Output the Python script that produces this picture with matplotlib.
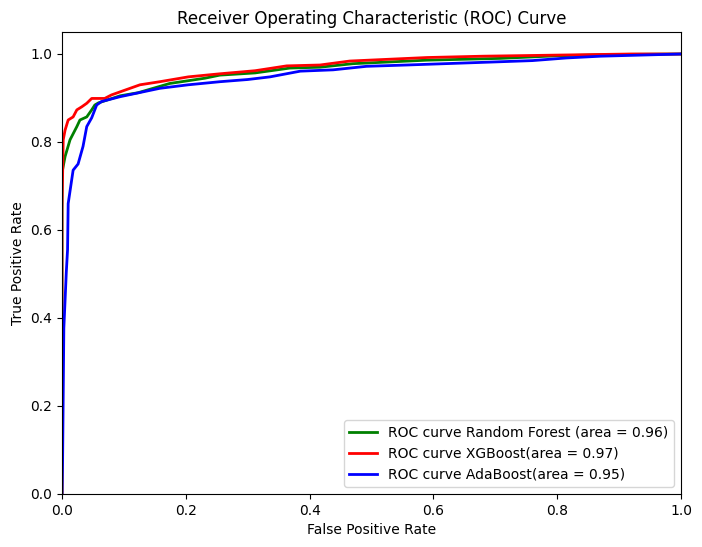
import matplotlib
matplotlib.use("Agg")
import matplotlib.pyplot as plt

# values
rf_fpr = [0.0, 0.0, 0.005, 0.013, 0.024, 0.029, 0.04, 0.048, 0.053, 0.059, 0.094, 0.123, 0.174,
          0.231, 0.255, 0.312, 0.368, 0.417, 0.47, 0.59, 0.708, 0.8, 0.9, 1.0]
rf_tpr = [0.0, 0.73, 0.767, 0.805, 0.835, 0.85, 0.857, 0.873, 0.884, 0.889, 0.905, 0.912, 0.933,
          0.945, 0.952, 0.957, 0.968, 0.970, 0.978, 0.986, 0.99, 0.996, 0.999, 1.0]

xgb_fpr = [0.0, 0.0, 0.002, 0.005, 0.01, 0.018, 0.024, 0.032, 0.04, 0.048, 0.069, 0.08, 0.094,
           0.126, 0.158, 0.204, 0.255, 0.312, 0.363, 0.417, 0.465, 0.59, 0.68, 0.92, 1.0]
xgb_tpr = [0.0, 0.645, 0.805, 0.827, 0.85, 0.857, 0.873, 0.88, 0.888, 0.899, 0.899, 0.907, 0.914,
           0.93, 0.937, 0.948, 0.955, 0.962, 0.973, 0.975, 0.984, 0.992, 0.995, 1.0, 1.0]

ada_fpr = [0.0, 0.001, 0.002, 0.003, 0.007, 0.009, 0.01, 0.018, 0.026, 0.034, 0.04, 0.048, 0.056,
           0.064, 0.094, 0.158, 0.204, 0.255, 0.3, 0.336, 0.385, 0.438, 0.492, 0.557, 0.7, 0.76,
           0.815, 0.87, 1.0]
ada_tpr = [0.0, 0.077, 0.23, 0.377, 0.505, 0.555, 0.66, 0.736, 0.75, 0.79, 0.835, 0.855, 0.884,
           0.892, 0.903, 0.922, 0.93, 0.937, 0.942, 0.948, 0.961, 0.964, 0.972, 0.975, 0.982,
           0.985, 0.991, 0.995, 1.0]

fig = plt.figure(figsize=(7.02, 5.47), dpi=100)
fig.subplots_adjust(left=0.0883, right=0.970, bottom=0.0969, top=0.9415)
ax = fig.gca()
ax.plot(rf_fpr, rf_tpr, color="green", lw=2, label="ROC curve Random Forest (area = 0.96)")
ax.plot(xgb_fpr, xgb_tpr, color="red", lw=2, label="ROC curve XGBoost(area = 0.97)")
ax.plot(ada_fpr, ada_tpr, color="blue", lw=2, label="ROC curve AdaBoost(area = 0.95)")
ax.set_xlim([0.0, 1.0])
ax.set_ylim([0.0, 1.05])
ax.set_xlabel("False Positive Rate")
ax.set_ylabel("True Positive Rate")
ax.set_title("Receiver Operating Characteristic (ROC) Curve")
ax.legend(loc="lower right")
fig.savefig("out.png")
